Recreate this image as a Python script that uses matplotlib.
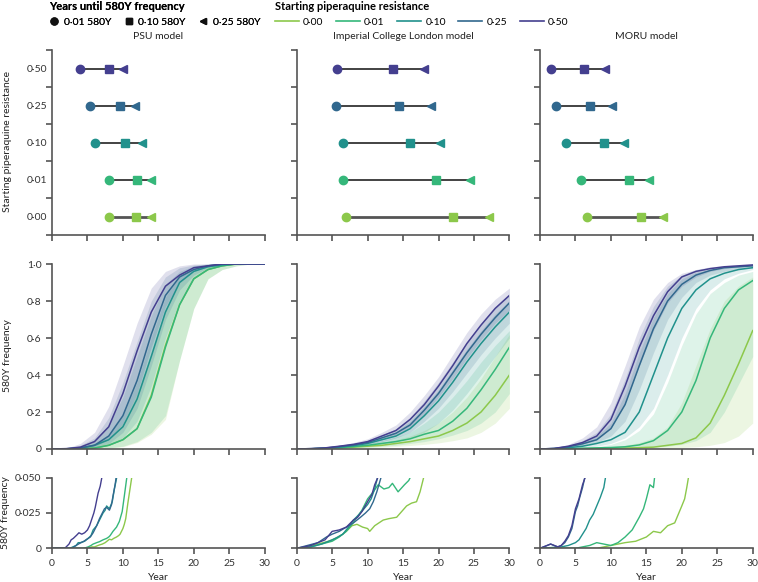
import numpy as np
import matplotlib
matplotlib.use("Agg")
from matplotlib import pyplot as plt
from matplotlib.lines import Line2D

plt.rcParams['font.family'] = ['Lato', 'DejaVu Sans']
plt.rcParams['font.size'] = 7

# starting piperaquine resistance levels, order 0.00 .. 0.50
levels = ["0·00", "0·01", "0·10", "0·25", "0·50"]
colors = ["#8cc84b", "#35b77a", "#21918c", "#31688e", "#443f8f"]
models = ["PSU model", "Imperial College London model", "MORU model"]

# top row: years until 580Y frequency reaches 0.01 / 0.10 / 0.25
psu_t001 = [8.1, 8.1, 6.1, 5.3, 4.0]
psu_t010 = [11.9, 12.0, 10.3, 9.6, 8.0]
psu_t025 = [14.0, 13.9, 12.7, 11.7, 10.0]
imp_t001 = [6.9, 6.6, 6.6, 5.5, 5.7]
imp_t010 = [22.0, 19.7, 16.0, 14.4, 13.6]
imp_t025 = [27.1, 24.5, 20.2, 18.9, 18.0]
moru_t001 = [6.6, 5.8, 3.7, 2.3, 1.6]
moru_t010 = [14.3, 12.5, 9.0, 7.1, 6.2]
moru_t025 = [17.3, 15.4, 11.8, 10.1, 9.2]

# middle row: median 580Y frequency every 2 years (0..30)
years = [0, 2, 4, 6, 8, 10, 12, 14, 16, 18, 20, 22, 24, 26, 28, 30]
psu_000 = [0, 0, 0.002, 0.005, 0.02, 0.05, 0.11, 0.29, 0.56, 0.78, 0.92, 0.97, 0.99, 1.0, 1.0, 1.0]
psu_001 = [0, 0, 0.002, 0.005, 0.02, 0.05, 0.11, 0.28, 0.55, 0.78, 0.92, 0.97, 0.99, 1.0, 1.0, 1.0]
psu_010 = [0, 0.001, 0.005, 0.02, 0.05, 0.12, 0.27, 0.50, 0.74, 0.90, 0.96, 0.985, 0.995, 1.0, 1.0, 1.0]
psu_025 = [0, 0.001, 0.006, 0.02, 0.07, 0.18, 0.37, 0.62, 0.83, 0.93, 0.97, 0.99, 1.0, 1.0, 1.0, 1.0]
psu_050 = [0, 0.002, 0.01, 0.04, 0.12, 0.30, 0.53, 0.74, 0.88, 0.94, 0.98, 0.99, 1.0, 1.0, 1.0, 1.0]
imp_000 = [0, 0.001, 0.003, 0.006, 0.01, 0.015, 0.02, 0.03, 0.04, 0.055, 0.07, 0.10, 0.14, 0.20, 0.29, 0.40]
imp_001 = [0, 0.001, 0.003, 0.008, 0.013, 0.02, 0.03, 0.04, 0.055, 0.08, 0.10, 0.15, 0.22, 0.32, 0.43, 0.55]
imp_010 = [0, 0.001, 0.004, 0.01, 0.018, 0.03, 0.05, 0.07, 0.11, 0.18, 0.26, 0.36, 0.47, 0.57, 0.66, 0.74]
imp_025 = [0, 0.002, 0.005, 0.013, 0.022, 0.035, 0.06, 0.085, 0.13, 0.21, 0.30, 0.41, 0.52, 0.62, 0.71, 0.79]
imp_050 = [0, 0.002, 0.006, 0.015, 0.025, 0.04, 0.07, 0.10, 0.16, 0.24, 0.34, 0.45, 0.57, 0.67, 0.76, 0.83]
moru_000 = [0, 0, 0.001, 0.002, 0.003, 0.004, 0.005, 0.007, 0.01, 0.02, 0.03, 0.06, 0.14, 0.29, 0.46, 0.64]
moru_001 = [0, 0, 0.002, 0.004, 0.006, 0.008, 0.012, 0.022, 0.045, 0.10, 0.20, 0.37, 0.60, 0.76, 0.86, 0.91]
moru_010 = [0, 0.002, 0.007, 0.015, 0.03, 0.05, 0.09, 0.20, 0.40, 0.60, 0.76, 0.86, 0.92, 0.95, 0.97, 0.98]
moru_025 = [0, 0.003, 0.012, 0.028, 0.05, 0.11, 0.24, 0.45, 0.65, 0.80, 0.89, 0.94, 0.965, 0.98, 0.985, 0.99]
moru_050 = [0, 0.003, 0.015, 0.035, 0.07, 0.16, 0.34, 0.55, 0.72, 0.85, 0.93, 0.96, 0.975, 0.985, 0.99, 0.995]

# uncertainty bands (low, high) on the same years
psu_000_lo = [0, 0, 0, 0.002, 0.005, 0.012, 0.035, 0.08, 0.16, 0.48, 0.76, 0.92, 0.97, 0.99, 1, 1]
psu_000_hi = [0, 0.001, 0.01, 0.03, 0.06, 0.14, 0.30, 0.52, 0.76, 0.90, 0.96, 0.99, 1, 1, 1, 1]
psu_001_lo = [0, 0, 0, 0.002, 0.006, 0.015, 0.04, 0.09, 0.18, 0.48, 0.76, 0.92, 0.97, 0.99, 1, 1]
psu_001_hi = [0, 0.001, 0.01, 0.03, 0.08, 0.18, 0.36, 0.60, 0.82, 0.94, 0.98, 0.995, 1, 1, 1, 1]
psu_010_lo = [0, 0, 0.002, 0.006, 0.02, 0.06, 0.15, 0.34, 0.60, 0.80, 0.92, 0.97, 0.99, 1, 1, 1]
psu_010_hi = [0, 0.002, 0.015, 0.05, 0.13, 0.28, 0.50, 0.72, 0.89, 0.96, 0.99, 1, 1, 1, 1, 1]
psu_025_lo = [0, 0, 0.003, 0.01, 0.03, 0.09, 0.22, 0.45, 0.70, 0.86, 0.94, 0.98, 0.99, 1, 1, 1]
psu_025_hi = [0, 0.003, 0.02, 0.06, 0.17, 0.36, 0.58, 0.80, 0.93, 0.98, 0.995, 1, 1, 1, 1, 1]
psu_050_lo = [0, 0.001, 0.004, 0.015, 0.05, 0.14, 0.30, 0.55, 0.77, 0.90, 0.96, 0.985, 0.995, 1, 1, 1]
psu_050_hi = [0, 0.004, 0.03, 0.09, 0.23, 0.45, 0.68, 0.87, 0.96, 0.99, 1, 1, 1, 1, 1, 1]
imp_000_lo = [0, 0, 0.001, 0.003, 0.005, 0.008, 0.01, 0.014, 0.019, 0.025, 0.033, 0.045, 0.06, 0.09, 0.14, 0.22]
imp_000_hi = [0, 0.001, 0.004, 0.01, 0.017, 0.025, 0.035, 0.05, 0.07, 0.10, 0.14, 0.20, 0.28, 0.38, 0.50, 0.62]
imp_001_lo = [0, 0, 0.002, 0.004, 0.007, 0.01, 0.015, 0.02, 0.03, 0.04, 0.055, 0.075, 0.10, 0.14, 0.20, 0.30]
imp_001_hi = [0, 0.002, 0.005, 0.012, 0.02, 0.03, 0.045, 0.065, 0.09, 0.14, 0.20, 0.28, 0.37, 0.47, 0.56, 0.64]
imp_010_lo = [0, 0.001, 0.002, 0.005, 0.01, 0.017, 0.028, 0.04, 0.06, 0.09, 0.14, 0.21, 0.30, 0.40, 0.50, 0.60]
imp_010_hi = [0, 0.002, 0.006, 0.014, 0.025, 0.04, 0.065, 0.095, 0.15, 0.23, 0.32, 0.43, 0.54, 0.64, 0.73, 0.80]
imp_025_lo = [0, 0.001, 0.003, 0.008, 0.015, 0.025, 0.04, 0.06, 0.09, 0.15, 0.22, 0.31, 0.41, 0.51, 0.60, 0.68]
imp_025_hi = [0, 0.002, 0.007, 0.017, 0.03, 0.045, 0.075, 0.11, 0.17, 0.26, 0.36, 0.47, 0.58, 0.68, 0.77, 0.84]
imp_050_lo = [0, 0.001, 0.004, 0.01, 0.018, 0.03, 0.05, 0.075, 0.12, 0.19, 0.28, 0.38, 0.49, 0.59, 0.68, 0.75]
imp_050_hi = [0, 0.003, 0.008, 0.02, 0.035, 0.055, 0.09, 0.13, 0.20, 0.29, 0.39, 0.51, 0.63, 0.73, 0.81, 0.87]
moru_000_lo = [0, 0, 0, 0, 0.001, 0.001, 0.002, 0.002, 0.003, 0.005, 0.008, 0.012, 0.02, 0.035, 0.07, 0.14]
moru_000_hi = [0, 0, 0.002, 0.004, 0.007, 0.012, 0.02, 0.035, 0.06, 0.12, 0.25, 0.45, 0.65, 0.80, 0.88, 0.93]
moru_001_lo = [0, 0, 0, 0.001, 0.002, 0.003, 0.005, 0.007, 0.01, 0.015, 0.025, 0.045, 0.09, 0.20, 0.35, 0.50]
moru_001_hi = [0, 0.001, 0.003, 0.006, 0.012, 0.025, 0.05, 0.10, 0.19, 0.36, 0.56, 0.73, 0.84, 0.90, 0.94, 0.96]
moru_010_lo = [0, 0.001, 0.004, 0.008, 0.015, 0.03, 0.06, 0.12, 0.22, 0.40, 0.60, 0.76, 0.86, 0.92, 0.95, 0.97]
moru_010_hi = [0, 0.003, 0.015, 0.035, 0.07, 0.14, 0.30, 0.52, 0.71, 0.84, 0.92, 0.955, 0.97, 0.98, 0.99, 0.99]
moru_025_lo = [0, 0.002, 0.008, 0.02, 0.035, 0.07, 0.15, 0.32, 0.52, 0.70, 0.82, 0.90, 0.94, 0.96, 0.975, 0.98]
moru_025_hi = [0, 0.004, 0.02, 0.045, 0.09, 0.19, 0.38, 0.60, 0.77, 0.88, 0.94, 0.97, 0.98, 0.99, 0.99, 0.995]
moru_050_lo = [0, 0.002, 0.01, 0.025, 0.05, 0.11, 0.25, 0.45, 0.64, 0.79, 0.88, 0.93, 0.96, 0.975, 0.985, 0.99]
moru_050_hi = [0, 0.005, 0.025, 0.06, 0.12, 0.25, 0.45, 0.66, 0.81, 0.90, 0.95, 0.97, 0.985, 0.99, 0.995, 1]

# bottom row: single early trajectories (year, frequency)
psu_low_000_x = [0, 5.0, 5.6, 6.0, 6.7, 7.1, 7.5, 8.1, 8.4, 8.7, 9.1, 9.4, 9.6, 10.0, 10.2, 10.4, 10.7, 11.0, 11.3]
psu_low_000_y = [0, 0, 0.001, 0.001, 0.0024, 0.003, 0.004, 0.0064, 0.006, 0.007, 0.008, 0.009, 0.010, 0.014, 0.017, 0.021, 0.032, 0.042, 0.052]
psu_low_001_x = [0, 4.5, 5.1, 5.5, 5.8, 6.3, 6.7, 7.2, 7.7, 8.0, 8.2, 8.6, 9.1, 9.5, 9.9, 10.2, 10.6]
psu_low_001_y = [0, 0, 0.001, 0.002, 0.003, 0.004, 0.0047, 0.006, 0.007, 0.008, 0.009, 0.012, 0.015, 0.019, 0.026, 0.037, 0.052]
psu_low_010_x = [0, 2.5, 3.4, 3.7, 4.0, 4.6, 5.1, 5.5, 5.8, 6.3, 6.7, 7.2, 7.5, 7.7, 8.1, 8.5, 8.8, 9.2]
psu_low_010_y = [0, 0, 0.002, 0.004, 0.004, 0.005, 0.007, 0.009, 0.013, 0.016, 0.020, 0.025, 0.027, 0.030, 0.028, 0.033, 0.042, 0.052]
psu_low_025_x = [0, 2.8, 3.4, 3.9, 4.5, 4.9, 5.4, 5.8, 6.3, 6.7, 7.1, 7.4, 7.7, 8.1, 8.4, 8.6, 8.9, 9.1]
psu_low_025_y = [0, 0, 0.002, 0.0035, 0.005, 0.0064, 0.008, 0.011, 0.016, 0.021, 0.025, 0.028, 0.029, 0.027, 0.031, 0.037, 0.045, 0.052]
psu_low_050_x = [0, 1.8, 2.4, 2.7, 3.0, 3.5, 3.8, 4.2, 4.6, 5.0, 5.3, 5.5, 5.9, 6.1, 6.3, 6.5, 6.8, 7.1]
psu_low_050_y = [0, 0, 0.003, 0.006, 0.007, 0.0094, 0.011, 0.010, 0.011, 0.013, 0.016, 0.019, 0.025, 0.029, 0.034, 0.039, 0.044, 0.052]

imp_low_000_x = [0, 1.5, 3.0, 4.5, 5.5, 6.5, 7.2, 7.8, 8.5, 9.3, 10.0, 10.3, 11.0, 12.2, 13.0, 14.1, 14.8, 15.5, 16.2, 16.9, 17.4, 18.0]
imp_low_000_y = [0, 0.001, 0.003, 0.005, 0.007, 0.010, 0.013, 0.016, 0.017, 0.015, 0.014, 0.012, 0.016, 0.020, 0.021, 0.022, 0.026, 0.030, 0.032, 0.033, 0.040, 0.052]
imp_low_001_x = [0, 2.0, 3.5, 5.0, 6.0, 7.0, 7.8, 8.5, 9.2, 10.0, 10.8, 11.5, 12.3, 13.0, 13.5, 14.3, 15.2, 15.8, 16.2]
imp_low_001_y = [0, 0.001, 0.003, 0.005, 0.008, 0.012, 0.017, 0.022, 0.027, 0.035, 0.040, 0.045, 0.042, 0.043, 0.046, 0.040, 0.045, 0.048, 0.052]
imp_low_010_x = [0, 2.0, 3.5, 5.0, 5.8, 6.5, 7.3, 8.0, 8.8, 9.5, 10.0, 10.5, 11.0, 11.5]
imp_low_010_y = [0, 0.001, 0.003, 0.006, 0.008, 0.010, 0.015, 0.020, 0.024, 0.028, 0.031, 0.035, 0.042, 0.052]
imp_low_025_x = [0, 1.5, 3.0, 4.2, 5.0, 6.0, 7.0, 8.0, 9.0, 9.7, 10.3, 10.8, 11.3, 12.0]
imp_low_025_y = [0, 0.002, 0.004, 0.008, 0.010, 0.012, 0.015, 0.018, 0.022, 0.025, 0.028, 0.033, 0.040, 0.052]
imp_low_050_x = [0, 1.0, 2.0, 3.0, 4.0, 5.0, 6.0, 7.0, 8.0, 8.6, 9.2, 10.0, 10.6, 11.0, 11.6]
imp_low_050_y = [0, 0.001, 0.002, 0.004, 0.006, 0.012, 0.013, 0.015, 0.020, 0.022, 0.026, 0.033, 0.038, 0.045, 0.052]

moru_low_000_x = [0, 8.0, 10.0, 11.0, 12.0, 13.5, 14.5, 15.0, 16.0, 17.0, 17.6, 18.0, 19.0, 19.5, 20.0, 20.4, 20.7, 21.0]
moru_low_000_y = [0, 0, 0.002, 0.003, 0.004, 0.005, 0.007, 0.008, 0.012, 0.011, 0.014, 0.016, 0.018, 0.024, 0.030, 0.035, 0.043, 0.052]
moru_low_001_x = [0, 5.0, 7.0, 8.0, 9.0, 10.0, 11.0, 12.0, 13.0, 14.0, 14.6, 15.0, 15.5, 16.0, 16.2]
moru_low_001_y = [0, 0, 0.002, 0.004, 0.003, 0.002, 0.004, 0.008, 0.013, 0.022, 0.028, 0.035, 0.045, 0.043, 0.052]
moru_low_010_x = [0, 3.0, 4.0, 5.0, 5.5, 6.0, 6.5, 7.0, 7.5, 8.0, 8.5, 9.0, 9.3]
moru_low_010_y = [0, 0.001, 0.002, 0.004, 0.006, 0.010, 0.014, 0.020, 0.024, 0.030, 0.036, 0.043, 0.052]
moru_low_025_x = [0, 1.0, 1.5, 2.5, 3.0, 3.5, 4.0, 4.5, 5.0, 5.3, 5.6, 6.0, 6.4]
moru_low_025_y = [0, 0.002, 0.003, 0.001, 0.002, 0.004, 0.008, 0.014, 0.026, 0.030, 0.036, 0.043, 0.052]
moru_low_050_x = [0, 1.0, 1.5, 2.5, 3.0, 3.5, 4.0, 4.5, 5.0, 5.5, 6.0, 6.5]
moru_low_050_y = [0, 0.002, 0.003, 0.001, 0.002, 0.005, 0.009, 0.016, 0.028, 0.035, 0.045, 0.052]


def dec(v, nd):
    s = f"{v:.{nd}f}"
    return "0" if v == 0 else s.replace(".", "·")


fig = plt.figure(figsize=(7.58, 5.82), dpi=100)
W, H = 758, 582
lefts = [52, 296.7, 540]
width = 212.7


def make_ax(x0, ytop, ybot):
    return fig.add_axes([x0 / W, 1 - ybot / H, width / W, (ybot - ytop) / H])


def style(ax):
    for s in ["top", "right"]:
        ax.spines[s].set_visible(False)
    for s in ["left", "bottom"]:
        ax.spines[s].set_color("#555555")
        ax.spines[s].set_linewidth(1.2)
    ax.tick_params(colors="#555555", labelcolor="#333333", length=4, width=1.2, labelsize=7.5)
    ax.set_xlim(0, 30)
    ax.set_xticks(range(0, 31, 5))


top_data = [(psu_t001, psu_t010, psu_t025), (imp_t001, imp_t010, imp_t025), (moru_t001, moru_t010, moru_t025)]
mid_data = [
    [psu_000, psu_001, psu_010, psu_025, psu_050],
    [imp_000, imp_001, imp_010, imp_025, imp_050],
    [moru_000, moru_001, moru_010, moru_025, moru_050],
]
mid_lo = [
    [psu_000_lo, psu_001_lo, psu_010_lo, psu_025_lo, psu_050_lo],
    [imp_000_lo, imp_001_lo, imp_010_lo, imp_025_lo, imp_050_lo],
    [moru_000_lo, moru_001_lo, moru_010_lo, moru_025_lo, moru_050_lo],
]
mid_hi = [
    [psu_000_hi, psu_001_hi, psu_010_hi, psu_025_hi, psu_050_hi],
    [imp_000_hi, imp_001_hi, imp_010_hi, imp_025_hi, imp_050_hi],
    [moru_000_hi, moru_001_hi, moru_010_hi, moru_025_hi, moru_050_hi],
]
low_data = [
    [(psu_low_000_x, psu_low_000_y), (psu_low_001_x, psu_low_001_y), (psu_low_010_x, psu_low_010_y),
     (psu_low_025_x, psu_low_025_y), (psu_low_050_x, psu_low_050_y)],
    [(imp_low_000_x, imp_low_000_y), (imp_low_001_x, imp_low_001_y), (imp_low_010_x, imp_low_010_y),
     (imp_low_025_x, imp_low_025_y), (imp_low_050_x, imp_low_050_y)],
    [(moru_low_000_x, moru_low_000_y), (moru_low_001_x, moru_low_001_y), (moru_low_010_x, moru_low_010_y),
     (moru_low_025_x, moru_low_025_y), (moru_low_050_x, moru_low_050_y)],
]

for c in range(3):
    # dumbbells
    ax = make_ax(lefts[c], 50, 235)
    style(ax)
    t1, t2, t3 = top_data[c]
    for i in range(5):
        y = i + 0.5
        lw = 2.0 if i == 0 else 1.2
        lc = "#555555" if i == 0 else "#222222"
        ax.plot([t1[i], t3[i]], [y, y], color=lc, lw=lw, zorder=1)
        ax.plot(t1[i], y, "o", color=colors[i], ms=6, zorder=2)
        ax.plot(t2[i], y, "s", color=colors[i], ms=6, zorder=2)
        ax.plot(t3[i], y, "<", color=colors[i], ms=6, zorder=2)
    ax.set_ylim(0, 5)
    ax.set_yticks(range(6))
    ax.set_yticklabels([])
    ax.set_yticks(np.arange(5) + 0.5, minor=True)
    ax.tick_params(axis="y", which="minor", length=0, labelsize=7.5, labelcolor="#333333")
    ax.set_yticklabels(levels if c == 0 else [], minor=True)
    ax.set_xticklabels([])
    ax.set_title(models[c], fontsize=7.5, color="#222222", pad=8)

    # median curves with bands
    ax = make_ax(lefts[c], 264, 449)
    style(ax)
    for i in range(5):
        ax.fill_between(years, mid_lo[c][i], mid_hi[c][i], color=colors[i], alpha=0.16, lw=0)
    for i in range(5):
        ax.plot(years, mid_data[c][i], color=colors[i], lw=1.1)
    ax.set_ylim(0, 1.0)
    ax.set_yticks(np.arange(0, 1.01, 0.2))
    ax.set_yticklabels([dec(v, 1) for v in np.arange(0, 1.01, 0.2)] if c == 0 else [])
    ax.set_xticklabels([])

    # low-frequency trajectories
    ax = make_ax(lefts[c], 477.7, 548.3)
    style(ax)
    for i in range(5):
        xs, ys = low_data[c][i]
        ax.plot(xs, ys, color=colors[i], lw=1.0)
    ax.set_ylim(0, 0.05)
    ax.set_yticks([0, 0.025, 0.05])
    ax.set_yticklabels(["0", "0·025", "0·050"] if c == 0 else [])
    ax.set_xticklabels([str(v) for v in range(0, 31, 5)])
    ax.set_xlabel("Year", fontsize=7.5, color="#222222", labelpad=4)

fig.text(8 / W, 1 - 142 / H, "Starting piperaquine resistance", rotation=90, ha="center", va="center", fontsize=7.5, color="#222222")
fig.text(8 / W, 1 - 356 / H, "580Y frequency", rotation=90, ha="center", va="center", fontsize=7.5, color="#222222")
fig.text(6 / W, 1 - 513 / H, "580Y frequency", rotation=90, ha="center", va="center", fontsize=7.5, color="#222222")

# legends
mk = [Line2D([], [], ls="none", marker=m, color="#111111", ms=5) for m in ["o", "s", "<"]]
leg1 = fig.legend(mk, ["0·01 580Y", "0·10 580Y", "0·25 580Y"], loc="upper left",
                  bbox_to_anchor=(48 / W, 1.0), ncol=3, frameon=False, fontsize=7.5,
                  title="Years until 580Y frequency", title_fontproperties={"weight": "bold", "size": 8},
                  alignment="left", handlelength=1.0, handletextpad=0.4, columnspacing=1.2,
                  borderaxespad=0, borderpad=0.1)
ln = [Line2D([], [], color=col, lw=1.2) for col in colors]
leg2 = fig.legend(ln, levels, loc="upper left", bbox_to_anchor=(274 / W, 1.0), ncol=5, frameon=False,
                  fontsize=7.5, title="Starting piperaquine resistance",
                  title_fontproperties={"weight": "bold", "size": 8}, alignment="left",
                  handlelength=2.3, handletextpad=0.4, columnspacing=1.2, borderaxespad=0, borderpad=0.1)
fig.add_artist(leg1)

fig.savefig("out.png", dpi=100)
